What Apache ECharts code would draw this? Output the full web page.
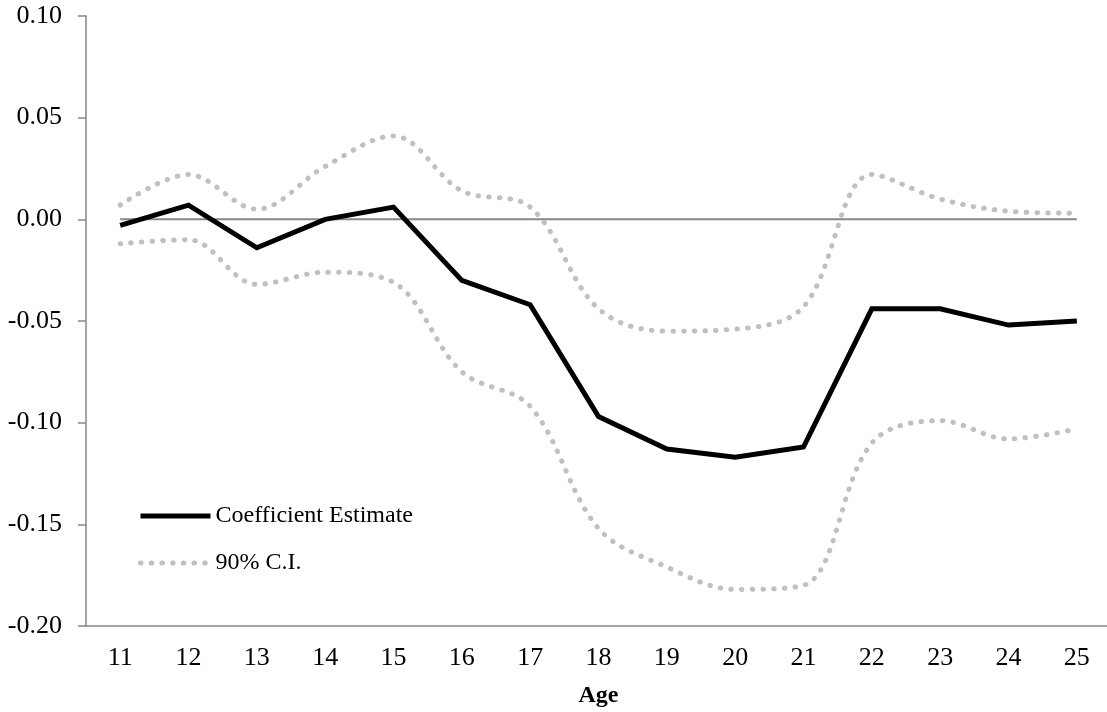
<!DOCTYPE html>
<html>
<head>
<meta charset="utf-8">
<title>Coefficient by Age</title>
<script src="https://cdn.jsdelivr.net/npm/echarts@6/dist/echarts.min.js"></script>
<style>
  html, body { margin: 0; padding: 0; background: #fff; }
  #ageChart { width: 1107px; height: 712px; }
</style>
</head>
<body>
<div id="ageChart"></div>
<script>
  // data
  var ages = ['11', '12', '13', '14', '15', '16', '17', '18', '19', '20', '21', '22', '23', '24', '25'];
  var coefEstimate = [-0.003, 0.007, -0.014, 0.000, 0.006, -0.030, -0.042, -0.097, -0.113, -0.117, -0.112, -0.044, -0.044, -0.052, -0.050];
  var ciUpper = [0.007, 0.022, 0.005, 0.026, 0.041, 0.014, 0.006, -0.044, -0.055, -0.054, -0.043, 0.022, 0.010, 0.004, 0.003];
  var ciLower = [-0.012, -0.010, -0.032, -0.026, -0.031, -0.075, -0.092, -0.152, -0.171, -0.182, -0.180, -0.110, -0.099, -0.108, -0.103];
  var zeroLine = [0, 0, 0, 0, 0, 0, 0, 0, 0, 0, 0, 0, 0, 0, 0];
  var yTicks = { min: -0.20, max: 0.10, step: 0.05 };

  var font = '"Liberation Serif", "DejaVu Serif", serif';
  var axisGray = '#868686';
  var ciGray = '#c0c0c0';

  var myChart = echarts.init(document.getElementById('ageChart'));

  // dotted grey style shared by both bounds
  var ciStyle = {
    color: ciGray,
    width: 5,
    type: [0.5, 10.2],
    cap: 'round'
  };

  myChart.setOption({
    animation: false,
    backgroundColor: '#ffffff',
    textStyle: { fontFamily: font },
    grid: {
      left: 86,
      right: -4,
      top: 16,
      bottom: 86,
      containLabel: false,
      outerBoundsMode: 'none'
    },
    legend: {
      orient: 'vertical',
      left: 133,
      top: 499,
      itemWidth: 70,
      itemHeight: 14,
      itemGap: 23,
      data: ['Coefficient Estimate', '90% C.I.'],
      // hide the marker dot, keep only the line
      itemStyle: { opacity: 0 },
      lineStyle: { width: 'inherit' },
      textStyle: { fontFamily: font, fontSize: 24, color: '#000' }
    },
    xAxis: {
      type: 'category',
      data: ages,
      boundaryGap: true,
      name: 'Age',
      nameLocation: 'middle',
      nameGap: 58,
      nameTextStyle: { fontFamily: font, fontSize: 24, fontWeight: 'bold', color: '#000' },
      axisLine: { onZero: false, lineStyle: { color: axisGray, width: 1.5 } },
      axisTick: { length: 7, lineStyle: { color: axisGray, width: 1.5 } },
      axisLabel: { fontFamily: font, fontSize: 26, color: '#000', margin: 19 },
      splitLine: { show: false }
    },
    yAxis: {
      type: 'value',
      min: yTicks.min,
      max: yTicks.max,
      interval: yTicks.step,
      axisLine: { show: true, lineStyle: { color: axisGray, width: 1.5 } },
      axisTick: { show: true, length: 8, lineStyle: { color: axisGray, width: 1.5 } },
      axisLabel: {
        fontFamily: font,
        fontSize: 26,
        color: '#000',
        margin: 24,
        formatter: function (v) { return v.toFixed(2); }
      },
      splitLine: { show: false }
    },
    series: [
      {
        name: 'zero',
        type: 'line',
        data: zeroLine,
        symbol: 'none',
        silent: true,
        lineStyle: { color: axisGray, width: 2 },
        z: 1
      },
      {
        name: '90% C.I.',
        type: 'line',
        data: ciUpper,
        smooth: 0.35,
        symbol: 'none',
        itemStyle: { color: ciGray },
        lineStyle: ciStyle,
        z: 2
      },
      {
        name: '90% C.I.',
        type: 'line',
        data: ciLower,
        smooth: 0.35,
        symbol: 'none',
        itemStyle: { color: ciGray },
        lineStyle: ciStyle,
        z: 2
      },
      {
        name: 'Coefficient Estimate',
        type: 'line',
        data: coefEstimate,
        symbol: 'none',
        itemStyle: { color: '#000' },
        lineStyle: { color: '#000', width: 5, join: 'miter' },
        z: 3
      }
    ]
  });

  window.addEventListener('resize', function () {
    myChart.resize();
  });
</script>
</body>
</html>
